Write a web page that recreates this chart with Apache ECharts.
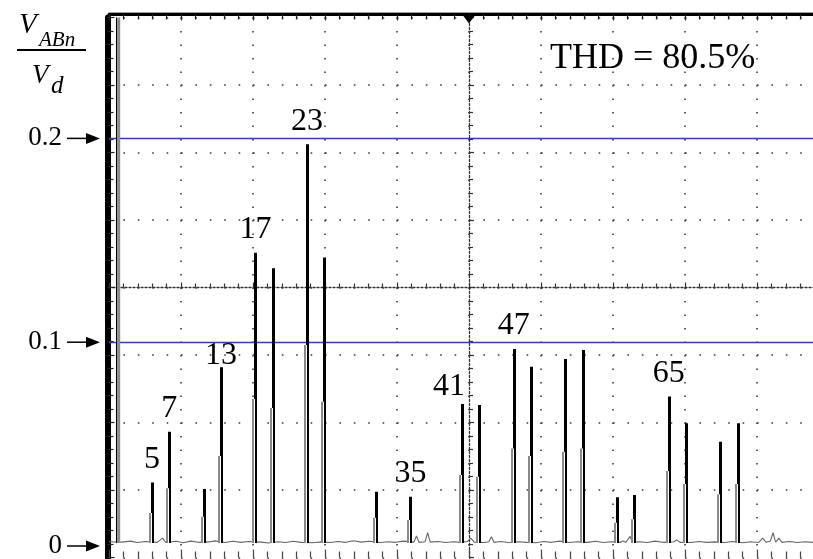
<!DOCTYPE html>
<html>
<head>
<meta charset="utf-8">
<title>Line-to-line voltage harmonic spectrum</title>
<script src="https://cdn.jsdelivr.net/npm/echarts@6/dist/echarts.min.js"></script>
<style>
  html, body { margin: 0; padding: 0; background: #fff; }
  #chart { width: 813px; height: 559px; }
</style>
</head>
<body>
<div id="chart"></div>
<script>
// Harmonic orders of the line-to-line voltage spectrum (fundamental = 60 Hz)
const orders = [5, 7, 11, 13, 17, 19, 23, 25, 31, 35, 41, 43, 47, 49, 53, 55, 59, 61, 65, 67, 71, 73];
// Peak amplitude of each harmonic, V_ABn / V_d
const peaks = [0.0311, 0.0561, 0.0280, 0.0877, 0.1439, 0.1363, 0.1971, 0.1415, 0.0266, 0.0242, 0.0697,
               0.0692, 0.0967, 0.0880, 0.0918, 0.0962, 0.0239, 0.0250, 0.0733, 0.0602, 0.0512, 0.0602];
// Level reached by the rising edge of each analyzer spike
const rises = [0.0162, 0.0283, 0.0144, 0.0442, 0.0721, 0.0677, 0.0986, 0.0708, 0.0139, 0.0128, 0.0348,
               0.0340, 0.0479, 0.0442, 0.0463, 0.0479, 0.0114, 0.0131, 0.0368, 0.0304, 0.0254, 0.0304];
// Fundamental component (runs off the top of the screen)
const fundamentalOrder = 1;
const fundamentalPeak = 0.49;
// Harmonic orders that carry a number above their spike
const labelledOrders = [5, 7, 13, 17, 23, 35, 41, 47, 65];
// Analyzer noise floor: [harmonic order, level]
const floorTrace = [
  [0, 0.0021], [1.5, 0.0019], [2.5, 0.0024], [3.3, 0.0017], [4.2, 0.0022], [5.6, 0.0018], [6.2, 0.0039],
  [6.6, 0.0017], [7.8, 0.0023], [8.6, 0.0016], [9.5, 0.0024], [10.4, 0.0018], [11.6, 0.0020], [12.3, 0.0025],
  [13.5, 0.0017], [14.4, 0.0023], [15.3, 0.0018], [16.2, 0.0022], [17.7, 0.0019], [18.5, 0.0015], [19.6, 0.0021],
  [20.5, 0.0017], [21.4, 0.0023], [22.3, 0.0018], [23.6, 0.0016], [24.5, 0.0020], [25.7, 0.0017], [26.6, 0.0022],
  [27.5, 0.0018], [28.4, 0.0026], [29.3, 0.0019], [30.2, 0.0023], [31.5, 0.0017], [32.4, 0.0021], [33.3, 0.0018],
  [34.2, 0.0024], [35.4, 0.0019], [35.7, 0.0049], [36.0, 0.0018], [36.7, 0.0021], [37.0, 0.0065], [37.3, 0.0019],
  [38.2, 0.0022], [39.1, 0.0017], [40.0, 0.0021], [40.8, 0.0018], [41.6, 0.0022], [42.0, 0.0039], [42.4, 0.0019],
  [43.6, 0.0017], [44.1, 0.0021], [44.4, 0.0045], [44.7, 0.0018], [45.5, 0.0022], [46.4, 0.0017], [47.6, 0.0021],
  [48.5, 0.0018], [49.6, 0.0016], [50.5, 0.0022], [51.4, 0.0018], [52.3, 0.0024], [53.5, 0.0017], [54.4, 0.0021],
  [55.6, 0.0018], [56.5, 0.0023], [57.4, 0.0017], [58.3, 0.0021], [59.4, 0.0018], [59.7, 0.0025], [60.0, 0.0017],
  [60.5, 0.0047], [60.8, 0.0018], [61.6, 0.0021], [62.5, 0.0017], [63.4, 0.0024], [64.3, 0.0018], [65.6, 0.0021],
  [65.9, 0.0030], [66.3, 0.0018], [67.6, 0.0017], [68.5, 0.0022], [69.4, 0.0018], [70.3, 0.0020], [71.5, 0.0017],
  [72.4, 0.0022], [73.6, 0.0016], [74.5, 0.0021], [75.4, 0.0017], [75.9, 0.0039], [76.3, 0.0018], [76.8, 0.0025],
  [77.1, 0.0065], [77.4, 0.0019], [77.8, 0.0039], [78.1, 0.0018], [79.0, 0.0022], [79.9, 0.0017], [80.8, 0.0021],
  [81.7, 0.0018], [82.6, 0.0022], [83.6, 0.0019]
];
// Vertical-scale marks and reference levels
const yTickValues = [0, 0.1, 0.2];
const referenceLevels = [0.1, 0.2];
const thdText = 'THD = 80.5%';

// Screen ranges: 10 x 8 graticule divisions, 0-5 kHz across
const orderRange = [0, 83.6];
const levelRange = [-0.005643, 0.25932];
const floorLevel = 0.0015;

const serif = '"Liberation Serif", "Times New Roman", serif';

function spikeItem(params, api) {
  const n = api.value(0);
  const b = api.coord([n, floorLevel]);
  const t = api.coord([n, api.value(1)]);
  const r = api.coord([n, api.value(2)]);
  const c = Math.round(b[0]);
  return {
    type: 'group',
    children: [
      { type: 'rect', shape: { x: c - 1, y: t[1], width: 3, height: b[1] - t[1] }, style: { fill: '#000' } },
      { type: 'rect', shape: { x: c - 1, y: r[1], width: 1, height: b[1] - r[1] }, style: { fill: '#fff' } },
      { type: 'rect', shape: { x: c - 3, y: r[1], width: 2, height: b[1] - r[1] }, style: { fill: '#8a8a8a' } }
    ]
  };
}

function fundamentalItem(params, api) {
  const n = api.value(0);
  const b = api.coord([n, floorLevel]);
  const t = api.coord([n, api.value(1)]);
  const c = Math.round(b[0]);
  return {
    type: 'group',
    children: [
      { type: 'rect', shape: { x: c - 2, y: t[1], width: 1.2, height: b[1] - t[1] }, style: { fill: '#000' } },
      { type: 'rect', shape: { x: c - 0.8, y: t[1], width: 3, height: b[1] - t[1] }, style: { fill: '#8c8c8c' } }
    ]
  };
}

const gridBox = { left: 109, top: 17.5, width: 720, height: 540, outerBoundsMode: 'none' };
const dotColor = '#3c3c3c';

const chart = echarts.init(document.getElementById('chart'), null, { renderer: 'canvas' });

const option = {
  animation: false,
  backgroundColor: '#fff',
  grid: [
    Object.assign({ id: 'data' }, gridBox),
    Object.assign({ id: 'graticule' }, gridBox),
    Object.assign({ id: 'centre' }, gridBox)
  ],
  xAxis: [
    { gridIndex: 0, type: 'value', min: orderRange[0], max: orderRange[1], show: false },
    {
      gridIndex: 1, type: 'value', min: 0, max: 10, interval: 1, position: 'bottom',
      axisLine: { show: false, onZero: false },
      axisTick: { show: true, inside: true, length: 8, lineStyle: { color: '#444', width: 1.2 } },
      minorTick: { show: true, splitNumber: 5, length: 6, lineStyle: { color: '#444', width: 1.2 } },
      axisLabel: { show: false },
      splitLine: { show: true, lineStyle: { color: dotColor, width: 1.6, type: [1.6, 11.9] } }
    },
    {
      gridIndex: 1, type: 'value', min: 0, max: 10, interval: 1, position: 'top', offset: 3,
      axisLine: { show: true, onZero: false, lineStyle: { color: '#000', width: 3 } },
      axisTick: { show: true, inside: true, length: 6, lineStyle: { color: '#222', width: 1.2 } },
      minorTick: { show: true, splitNumber: 5, length: 5, lineStyle: { color: '#222', width: 1.2 } },
      axisLabel: { show: false }, splitLine: { show: false }
    },
    {
      gridIndex: 1, type: 'value', min: 0, max: 10, position: 'top', offset: 5.5,
      axisLine: { show: true, onZero: false, lineStyle: { color: '#a0a0a0', width: 1.2 } },
      axisTick: { show: false }, axisLabel: { show: false }, splitLine: { show: false }
    },
    {
      gridIndex: 2, type: 'value', min: -5, max: 5, interval: 1,
      axisLine: { show: true, onZero: true, lineStyle: { color: '#333', width: 1.3, type: [2, 2] } },
      axisTick: { show: true, inside: true, length: 5, lineStyle: { color: '#333', width: 1.2 } },
      minorTick: { show: true, splitNumber: 5, length: 4, lineStyle: { color: '#333', width: 1.2 } },
      axisLabel: { show: false }, splitLine: { show: false }
    }
  ],
  yAxis: [
    { gridIndex: 0, type: 'value', min: levelRange[0], max: levelRange[1], show: false },
    {
      gridIndex: 1, type: 'value', min: 0, max: 8, interval: 1, position: 'left', offset: 1.5,
      axisLine: { show: true, onZero: false, lineStyle: { color: '#000', width: 6 } },
      axisTick: { show: true, inside: true, length: 7, lineStyle: { color: '#222', width: 1.2 } },
      minorTick: { show: true, splitNumber: 5, length: 6, lineStyle: { color: '#222', width: 1.2 } },
      axisLabel: { show: false },
      splitLine: { show: true, lineStyle: { color: dotColor, width: 1.6, type: [1.6, 12.8] } }
    },
    {
      gridIndex: 2, type: 'value', min: -4, max: 4, interval: 1,
      axisLine: { show: true, onZero: true, lineStyle: { color: '#333', width: 1.3, type: [2, 2] } },
      axisTick: { show: true, inside: true, length: 5, lineStyle: { color: '#333', width: 1.2 } },
      minorTick: { show: true, splitNumber: 5, length: 4, lineStyle: { color: '#333', width: 1.2 } },
      axisLabel: { show: false }, splitLine: { show: false }
    }
  ],
  series: [
    {
      name: 'floor', type: 'line', xAxisIndex: 0, yAxisIndex: 0, data: floorTrace,
      symbol: 'none', silent: true, z: 2,
      lineStyle: { color: '#666', width: 1.1 }
    },
    {
      name: 'harmonics', type: 'custom', xAxisIndex: 0, yAxisIndex: 0, clip: true, z: 3,
      data: orders.map((n, i) => [n, peaks[i], rises[i]]),
      encode: { x: 0, y: 1 },
      renderItem: spikeItem,
      markLine: {
        silent: true, symbol: 'none', animation: false, z: 2,
        label: { show: false },
        lineStyle: { color: '#3b3bab', width: 1.3, type: 'solid' },
        data: referenceLevels.map(v => ({ yAxis: v }))
      }
    },
    {
      name: 'fundamental', type: 'custom', xAxisIndex: 0, yAxisIndex: 0, clip: true, z: 3,
      data: [[fundamentalOrder, fundamentalPeak]],
      encode: { x: 0, y: 1 },
      renderItem: fundamentalItem
    },
    {
      name: 'orders', type: 'scatter', xAxisIndex: 0, yAxisIndex: 0, symbolSize: 0, silent: true, z: 4,
      itemStyle: { opacity: 1, color: '#000' },
      data: labelledOrders.map(n => {
        const item = { value: [n, peaks[orders.indexOf(n)]] };
        if (n === 13) item.label = { distance: -4 };
        if (n === 41) item.label = { distance: 1, offset: [-13, 0] };
        return item;
      }),
      label: {
        show: true, position: 'top', distance: 7, opacity: 1,
        formatter: p => String(p.value[0]),
        color: '#000', fontFamily: serif, fontSize: 32
      }
    }
  ]
};

chart.setOption(option);

// Annotations placed through the chart's own scales
const yPix = v => chart.convertToPixel({ yAxisIndex: 0 }, v);
const centreX = chart.convertToPixel({ xAxisIndex: 1 }, 5);
const screenTop = chart.convertToPixel({ yAxisIndex: 1 }, 8);

const graphics = [];
yTickValues.forEach(v => {
  const y = yPix(v);
  graphics.push({
    type: 'text', x: 62, y: y,
    style: { text: String(v), font: '27px ' + serif, fill: '#000', textAlign: 'right', textVerticalAlign: 'middle' }
  });
  graphics.push({ type: 'line', shape: { x1: 67, y1: y, x2: 90, y2: y }, style: { stroke: '#000', lineWidth: 1.5 } });
  graphics.push({ type: 'polygon', shape: { points: [[86, y - 5.5], [100, y], [86, y + 5.5]] }, style: { fill: '#000' } });
});

// Trigger marker at the centre of the top edge
graphics.push({
  type: 'polygon', z: 10,
  shape: { points: [[centreX - 6, screenTop - 2], [centreX + 6, screenTop - 2], [centreX, screenTop + 6]] },
  style: { fill: '#000' }
});

graphics.push({
  type: 'text', x: 550, y: 58.5,
  style: { text: thdText, font: '36px ' + serif, fill: '#000', textAlign: 'left', textVerticalAlign: 'middle' }
});

// Axis quantity V_ABn / V_d
graphics.push(
  { type: 'text', x: 19, y: 25, style: { text: 'V', font: 'italic 29px ' + serif, fill: '#000', textVerticalAlign: 'middle' } },
  { type: 'text', x: 39, y: 40.5, style: { text: 'ABn', font: 'italic 21px ' + serif, fill: '#000', textVerticalAlign: 'middle' } },
  { type: 'line', shape: { x1: 17, y1: 50, x2: 86, y2: 50 }, style: { stroke: '#000', lineWidth: 2 } },
  { type: 'text', x: 32, y: 76, style: { text: 'V', font: 'italic 27px ' + serif, fill: '#000', textVerticalAlign: 'middle' } },
  { type: 'text', x: 51, y: 86, style: { text: 'd', font: 'italic 25px ' + serif, fill: '#000', textVerticalAlign: 'middle' } }
);

chart.setOption({ graphic: graphics });
</script>
</body>
</html>
